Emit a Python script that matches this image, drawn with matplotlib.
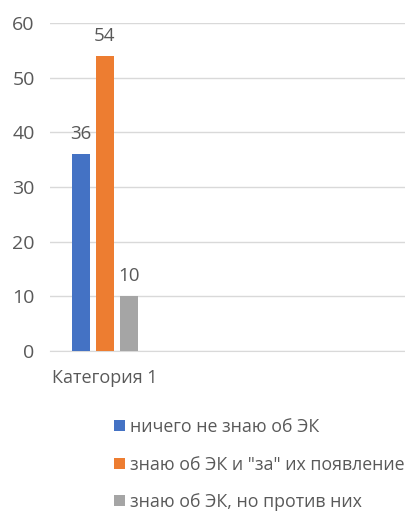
import matplotlib
matplotlib.use("Agg")
import matplotlib.pyplot as plt

plt.rcParams["font.family"] = ["Open Sans", "DejaVu Sans"]

category = "Категория 1"
series = ["ничего не знаю об ЭК", "знаю об ЭК и \"за\" их появление", "знаю об ЭК, но против них"]
values = [36, 54, 10]
colors = ["#4472C4", "#ED7D31", "#A5A5A5"]
yticks = [0, 10, 20, 30, 40, 50, 60]

text_color = "#595959"
grid_color = "#D9D9D9"

W, H = 406, 512
fig = plt.figure(figsize=(W / 100, H / 100), dpi=100)

# axes in pixel coordinates: left 50, bottom 351, top 23
left, bottom, top = 50, 351, 23
ax = fig.add_axes([left / W, (H - bottom) / H, (W - left) / W, (bottom - top) / H])

step = 24.0  # pixels between bar centres
xs = [0, 1, 2]
bars = ax.bar(xs, values, width=18.5 / step, color=colors, zorder=3)
for x, v in zip(xs, values):
    ax.annotate(str(v), (x, v), xytext=(0, 11), textcoords="offset points",
                ha="center", va="baseline", fontsize=13.5, color=text_color)

xmin = -(81 - left) / step
ax.set_xlim(xmin, xmin + (W - left) / step)
ax.set_ylim(0, 60)
ax.set_yticks(yticks)
ax.set_yticklabels([str(t) for t in yticks], fontsize=14, color=text_color)
ax.tick_params(axis="y", length=0, pad=11)
ax.set_xticks([1])
ax.set_xticklabels([category], fontsize=13, color=text_color)
ax.tick_params(axis="x", length=0, pad=13)
ax.grid(axis="y", color=grid_color, linewidth=1, zorder=0)
for s in ["left", "right", "top"]:
    ax.spines[s].set_visible(False)
ax.spines["bottom"].set_color(grid_color)

fig.legend(bars, series, loc="upper left", bbox_to_anchor=(98 / W, 1 - 402 / H),
           frameon=False, fontsize=12.8, labelcolor=text_color,
           handlelength=0.6, handleheight=0.6, handletextpad=0.3, labelspacing=1.1)

fig.savefig("out.png", dpi=100)
